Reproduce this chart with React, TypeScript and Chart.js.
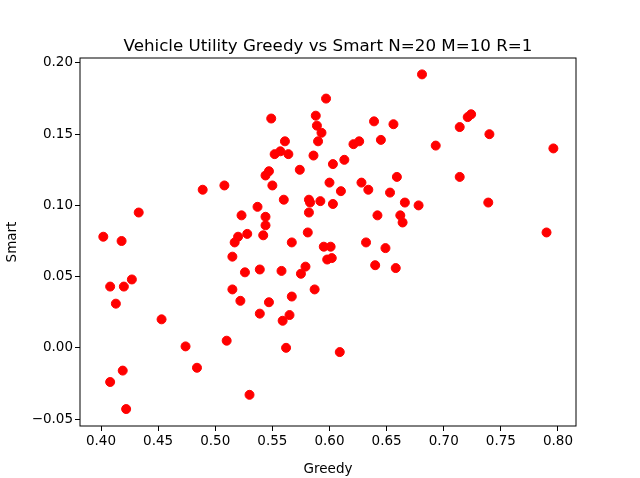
import { useEffect, useRef } from 'react';
import Chart from 'chart.js/auto';

const greedy = [
  0.402, 0.408, 0.408, 0.413, 0.418, 0.420, 0.419, 0.422, 0.427, 0.433, 0.453, 0.474, 0.484, 0.489,
  0.508, 0.510, 0.515, 0.515, 0.517, 0.520, 0.523, 0.522, 0.526, 0.528, 0.530, 0.537, 0.539, 0.539,
  0.542, 0.544, 0.544, 0.544, 0.547, 0.547, 0.549, 0.550, 0.552, 0.557, 0.558, 0.559, 0.560, 0.561,
  0.562, 0.564, 0.565, 0.567, 0.567, 0.574, 0.575, 0.579, 0.581, 0.582, 0.582, 0.583, 0.586, 0.587,
  0.588, 0.589, 0.590, 0.592, 0.593, 0.595, 0.597, 0.598, 0.600, 0.601, 0.602, 0.603, 0.603, 0.609,
  0.610, 0.613, 0.621, 0.626, 0.628, 0.632, 0.634, 0.639, 0.640, 0.642, 0.645, 0.649, 0.653, 0.656,
  0.658, 0.659, 0.662, 0.664, 0.666, 0.678, 0.681, 0.693, 0.714, 0.714, 0.721, 0.724, 0.740, 0.739,
  0.790, 0.796,
];
const smart = [
  0.078, 0.043, -0.024, 0.031, 0.075, 0.043, -0.016, -0.043, 0.048, 0.095, 0.020, 0.001, -0.014, 0.111,
  0.114, 0.005, 0.064, 0.041, 0.074, 0.078, 0.093, 0.033, 0.053, 0.080, -0.033, 0.099, 0.055, 0.024,
  0.079, 0.092, 0.086, 0.121, 0.124, 0.032, 0.161, 0.114, 0.136, 0.138, 0.054, 0.019, 0.104, 0.145,
  0.000, 0.136, 0.023, 0.074, 0.036, 0.125, 0.052, 0.057, 0.081, 0.104, 0.095, 0.102, 0.135, 0.041,
  0.163, 0.156, 0.145, 0.103, 0.151, 0.071, 0.175, 0.062, 0.116, 0.071, 0.063, 0.129, 0.101, -0.003,
  0.110, 0.132, 0.143, 0.145, 0.116, 0.074, 0.111, 0.159, 0.058, 0.093, 0.146, 0.070, 0.109, 0.157,
  0.056, 0.120, 0.093, 0.088, 0.102, 0.100, 0.192, 0.142, 0.155, 0.120, 0.162, 0.164, 0.150, 0.102,
  0.081, 0.140,
];
const xTicks = [0.40, 0.45, 0.50, 0.55, 0.60, 0.65, 0.70, 0.75, 0.80];
const yTicks = [-0.05, 0.00, 0.05, 0.10, 0.15, 0.20];

const FONT = "'DejaVu Sans', sans-serif";

const frame = {
  id: 'frame',
  afterDraw(chart: any) {
    const { ctx, chartArea: a } = chart;
    ctx.save();
    ctx.strokeStyle = '#000';
    ctx.lineWidth = 1;
    ctx.strokeRect(a.left, a.top, a.right - a.left, a.bottom - a.top);
    ctx.fillStyle = '#000';
    ctx.font = `16.7px ${FONT}`;
    ctx.textAlign = 'center';
    ctx.textBaseline = 'alphabetic';
    ctx.fillText('Vehicle Utility Greedy vs Smart N=20 M=10 R=1', (a.left + a.right) / 2, a.top - 7);
    ctx.restore();
  },
};

export default function App() {
  const ref = useRef<HTMLCanvasElement>(null);

  useEffect(() => {
    document.body.style.margin = '0';
    if (!ref.current) return;
    const chart = new Chart(ref.current, {
      type: 'scatter',
      data: {
        datasets: [{
          data: greedy.map((g, i) => ({ x: g, y: smart[i] })),
          backgroundColor: '#ff0000',
          borderColor: '#ff0000',
          pointRadius: 4.5,
          pointHoverRadius: 4.5,
        }],
      },
      options: {
        animation: false,
        responsive: false,
        layout: { padding: { top: 58, right: 64, left: 0, bottom: 0 } },
        plugins: { legend: { display: false }, tooltip: { enabled: false } },
        scales: {
          x: {
            min: 0.3816, max: 0.8158,
            afterBuildTicks: (s: any) => { s.ticks = xTicks.map(v => ({ value: v })); },
            afterFit: (s: any) => { s.height = 52; },
            grid: { drawOnChartArea: false, tickLength: 5, color: '#000' },
            border: { display: false },
            ticks: { color: '#000', font: { family: FONT, size: 13.5 }, padding: 2, maxRotation: 0,
              callback: (v: any) => Number(v).toFixed(2) },
            title: { display: true, text: 'Greedy', color: '#000', font: { family: FONT, size: 13.5 }, padding: 0 },
          },
          y: {
            min: -0.0549, max: 0.2035,
            afterBuildTicks: (s: any) => { s.ticks = yTicks.map(v => ({ value: v })); },
            afterFit: (s: any) => { s.width = 80; },
            grid: { drawOnChartArea: false, tickLength: 5, color: '#000' },
            border: { display: false },
            ticks: { color: '#000', font: { family: FONT, size: 13.5 }, padding: 2,
              callback: (v: any) => Number(v).toFixed(2).replace('-', '\u2212') },
            title: { display: true, text: 'Smart', color: '#000', font: { family: FONT, size: 13.5 }, padding: 4 },
          },
        },
      },
      plugins: [frame],
    });
    return () => chart.destroy();
  }, []);

  return <canvas ref={ref} width={640} height={478} style={{ display: 'block' }} />;
}
